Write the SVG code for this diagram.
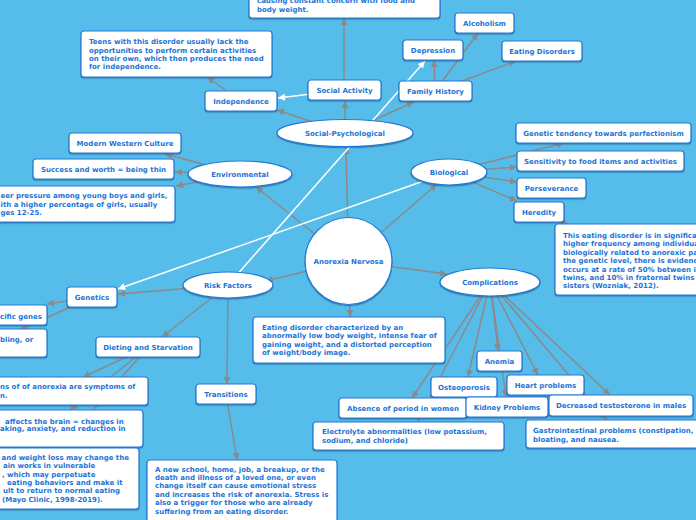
<svg xmlns="http://www.w3.org/2000/svg" width="696" height="520" viewBox="0 0 696 520">
<defs>
<marker id="ag" markerUnits="userSpaceOnUse" viewBox="0 0 10 10" refX="10" refY="5" markerWidth="9" markerHeight="7" orient="auto"><path d="M0,0 L10,5 L0,10 z" fill="#8a8a8a"/></marker>
<marker id="aw" markerUnits="userSpaceOnUse" viewBox="0 0 10 10" refX="10" refY="5" markerWidth="9" markerHeight="7" orient="auto"><path d="M0,0 L10,5 L0,10 z" fill="#ffffff"/></marker>
<filter id="sh" x="-10%" y="-20%" width="120%" height="150%"><feDropShadow dx="0" dy="1.2" stdDeviation="0.7" flood-color="#1b4f8a" flood-opacity="0.55"/></filter>
</defs>
<style>
.bg{fill:#56bdea}
.n rect,.n ellipse,.n circle{fill:#ffffff;stroke:#2479d3;stroke-width:1.2;filter:url(#sh)}
text{font-family:"DejaVu Sans",Verdana,sans-serif;font-weight:bold;font-size:7px;fill:#1c74d6}
.c{text-anchor:middle}
.g{stroke:#8a8a8a;stroke-width:1.5;fill:none;marker-end:url(#ag)}
.w{stroke:#ffffff;stroke-width:1.5;fill:none;marker-end:url(#aw)}
</style>
<rect class="bg" x="0" y="0" width="696" height="520"/>
<g id="connectors">
<line class="g" x1="348.5" y1="261" x2="346" y2="147"/>
<line class="g" x1="348.5" y1="261" x2="256" y2="187"/>
<line class="g" x1="348.5" y1="261" x2="437" y2="184"/>
<line class="g" x1="348.5" y1="261" x2="266" y2="281"/>
<line class="g" x1="348.5" y1="261" x2="447" y2="274"/>
<line class="g" x1="348.5" y1="261" x2="350" y2="317"/>
<line class="g" x1="345" y1="133" x2="277" y2="110"/>
<line class="g" x1="345" y1="133" x2="345" y2="101"/>
<line class="g" x1="345" y1="133" x2="414" y2="102"/>
<line class="g" x1="344" y1="90" x2="344" y2="18"/>
<line class="w" x1="344" y1="90" x2="278" y2="98"/>
<line class="g" x1="241" y1="101" x2="207" y2="77"/>
<line class="g" x1="435" y1="91" x2="434" y2="60"/>
<line class="g" x1="435" y1="91" x2="478" y2="33"/>
<line class="g" x1="435" y1="91" x2="516" y2="61"/>
<line class="w" x1="228" y1="285" x2="425" y2="61"/>
<line class="w" x1="449" y1="172" x2="118" y2="289"/>
<line class="g" x1="240" y1="174" x2="165" y2="154"/>
<line class="g" x1="240" y1="174" x2="175" y2="172"/>
<line class="g" x1="240" y1="174" x2="176" y2="186"/>
<line class="g" x1="449" y1="172" x2="564" y2="143"/>
<line class="g" x1="449" y1="172" x2="517" y2="167"/>
<line class="g" x1="449" y1="172" x2="517" y2="182"/>
<line class="g" x1="449" y1="172" x2="517" y2="201"/>
<line class="g" x1="539" y1="212" x2="568" y2="224"/>
<line class="g" x1="228" y1="285" x2="118" y2="294"/>
<line class="g" x1="228" y1="285" x2="162" y2="337"/>
<line class="g" x1="228" y1="285" x2="227" y2="384"/>
<line class="g" x1="92" y1="297" x2="47" y2="304"/>
<line class="g" x1="92" y1="297" x2="20" y2="330"/>
<line class="g" x1="148" y1="347" x2="83" y2="377"/>
<line class="g" x1="148" y1="347" x2="70" y2="410"/>
<line class="g" x1="148" y1="347" x2="60" y2="448"/>
<line class="g" x1="226" y1="394" x2="237" y2="460"/>
<line class="g" x1="490" y1="282" x2="412" y2="398"/>
<line class="g" x1="490" y1="282" x2="417" y2="422"/>
<line class="g" x1="490" y1="282" x2="468" y2="377"/>
<line class="g" x1="490" y1="282" x2="498" y2="351"/>
<line class="g" x1="490" y1="282" x2="506" y2="397"/>
<line class="g" x1="490" y1="282" x2="538" y2="375"/>
<line class="g" x1="490" y1="282" x2="610" y2="395"/>
<line class="g" x1="490" y1="282" x2="607" y2="420"/>
</g>
<g id="topbox" class="n"><rect x="249" y="-22" width="191" height="40" rx="3"/><text x="257" y="3.2">causing constant concern with food and</text><text x="257" y="11.8">body weight.</text></g>
<g id="teens" class="n"><rect x="81" y="31" width="191" height="46" rx="3"/><text x="89" y="44.2">Teens with this disorder usually lack the</text><text x="89" y="52.5">opportunities to perform certain activities</text><text x="89" y="60.8">on their own, which then produces the need</text><text x="89" y="69.2">for independence.</text></g>
<g id="alcoholism" class="n"><rect x="455" y="13" width="59" height="20" rx="3"/><text class="c" x="484.5" y="25.5">Alcoholism</text></g>
<g id="depression" class="n"><rect x="403" y="40" width="60" height="20" rx="3"/><text class="c" x="433" y="52.5">Depression</text></g>
<g id="eating-disorders" class="n"><rect x="502" y="41" width="80" height="20" rx="3"/><text class="c" x="542" y="53.5">Eating Disorders</text></g>
<g id="social-activity" class="n"><rect x="308" y="80" width="73" height="20" rx="3"/><text class="c" x="344.5" y="92.5">Social Activity</text></g>
<g id="family-history" class="n"><rect x="399" y="81" width="73" height="20" rx="3"/><text class="c" x="435.5" y="93.5">Family History</text></g>
<g id="independence" class="n"><rect x="205" y="91" width="72" height="20" rx="3"/><text class="c" x="241" y="103.5">Independence</text></g>
<g id="social-psychological" class="n"><ellipse cx="345" cy="133" rx="68" ry="13.5"/><text class="c" x="345" y="135.5">Social-Psychological</text></g>
<g id="modern-western" class="n"><rect x="69" y="133" width="112" height="20" rx="3"/><text class="c" x="125" y="145.5">Modern Western Culture</text></g>
<g id="success" class="n"><rect x="33" y="159" width="141" height="20" rx="3"/><text class="c" x="103.5" y="171.5">Success and worth = being thin</text></g>
<g id="peer" class="n"><rect x="-10" y="186" width="185" height="36" rx="3"/><text x="0.5" y="198.2">eer pressure among young boys and girls,</text><text x="0.5" y="206.8">ith a higher percentage of girls, usually</text><text x="0.5" y="214.8">ges 12-25.</text></g>
<g id="environmental" class="n"><ellipse cx="240" cy="174" rx="52" ry="13"/><text class="c" x="240" y="176.5">Environmental</text></g>
<g id="biological" class="n"><ellipse cx="449" cy="172" rx="38" ry="13"/><text class="c" x="449" y="174.5">Biological</text></g>
<g id="genetic-tendency" class="n"><rect x="516" y="123" width="175" height="20" rx="3"/><text class="c" x="603.5" y="135.5">Genetic tendency towards perfectionism</text></g>
<g id="sensitivity" class="n"><rect x="517" y="151" width="167" height="20" rx="3"/><text class="c" x="600.5" y="163.5">Sensitivity to food items and activities</text></g>
<g id="perseverance" class="n"><rect x="517" y="178" width="69" height="20" rx="3"/><text class="c" x="551.5" y="190.5">Perseverance</text></g>
<g id="heredity" class="n"><rect x="514" y="202" width="50" height="20" rx="3"/><text class="c" x="539" y="214.5">Heredity</text></g>
<g id="heredity-note" class="n"><rect x="555" y="224" width="160" height="71" rx="3"/><text x="563" y="237.5">This eating disorder is in significa</text><text x="563" y="245.9">higher frequency among individua</text><text x="563" y="254.8">biologically related to anorexic pa</text><text x="563" y="263.2">the genetic level, there is evidenc</text><text x="563" y="271.5">occurs at a rate of 50% between i</text><text x="563" y="279.9">twins, and 10% in fraternal twins</text><text x="563" y="288.2">sisters (Wozniak, 2012).</text></g>
<g id="anorexia-nervosa" class="n"><circle cx="348.5" cy="261" r="43.5"/><text class="c" x="348.5" y="263.5">Anorexia Nervosa</text></g>
<g id="risk-factors" class="n"><ellipse cx="228" cy="285" rx="45" ry="13"/><text class="c" x="228" y="287.5">Risk Factors</text></g>
<g id="complications" class="n"><ellipse cx="490" cy="282" rx="50" ry="14"/><text class="c" x="490" y="284.5">Complications</text></g>
<g id="genetics" class="n"><rect x="67" y="287" width="50" height="20" rx="3"/><text class="c" x="92" y="299.5">Genetics</text></g>
<g id="specific-genes" class="n"><rect x="-10" y="305" width="57" height="20" rx="3"/><text x="0" y="318.5">cific genes</text></g>
<g id="sibling" class="n"><rect x="-10" y="329" width="57" height="28" rx="3"/><text x="0" y="341.8">bling, or</text></g>
<g id="definition" class="n"><rect x="253" y="317" width="192" height="46" rx="3"/><text x="262" y="329.8">Eating disorder characterized by an</text><text x="262" y="338.2">abnormally low body weight, intense fear of</text><text x="262" y="346.6">gaining weight, and a distorted perception</text><text x="262" y="355">of weight/body image.</text></g>
<g id="dieting" class="n"><rect x="96" y="337" width="104" height="20" rx="3"/><text class="c" x="148" y="349.5">Dieting and Starvation</text></g>
<g id="symptoms" class="n"><rect x="-10" y="377" width="158" height="28" rx="3"/><text x="0" y="388.5">ns of of anorexia are symptoms of</text><text x="0" y="397.5">n.</text></g>
<g id="brain" class="n"><rect x="-10" y="410" width="153" height="37" rx="3"/><text x="5" y="423.5">affects the brain = changes in</text><text x="0" y="431">aking, anxiety, and reduction in</text></g>
<g id="weight-loss" class="n"><rect x="-10" y="448" width="149" height="61" rx="3"/><text x="1.5" y="459.8">and weight loss may change the</text><text x="3" y="468.2">ain works in vulnerable</text><text x="2" y="476.6">, which may perpetuate</text><text x="7" y="485">eating behaviors and make it</text><text x="3" y="493.4">ult to return to normal eating</text><text x="2" y="501.8">(Mayo Clinic, 1998-2019).</text></g>
<g id="transitions" class="n"><rect x="196" y="384" width="60" height="20" rx="3"/><text class="c" x="226" y="396.5">Transitions</text></g>
<g id="transitions-note" class="n"><rect x="147" y="460" width="190" height="70" rx="3"/><text x="155" y="471.5">A new school, home, job, a breakup, or the</text><text x="155" y="479.9">death and illness of a loved one, or even</text><text x="155" y="488.3">change itself can cause emotional stress</text><text x="155" y="496.7">and increases the risk of anorexia. Stress is</text><text x="155" y="505.1">also a trigger for those who are already</text><text x="155" y="513.5">suffering from an eating disorder.</text></g>
<g id="anemia" class="n"><rect x="477" y="351" width="45" height="20" rx="3"/><text class="c" x="499.5" y="363.5">Anemia</text></g>
<g id="osteoporosis" class="n"><rect x="431" y="377" width="66" height="20" rx="3"/><text class="c" x="464" y="389.5">Osteoporosis</text></g>
<g id="heart" class="n"><rect x="507" y="375" width="77" height="20" rx="3"/><text class="c" x="545.5" y="387.5">Heart problems</text></g>
<g id="absence" class="n"><rect x="339" y="398" width="128" height="20" rx="3"/><text class="c" x="403" y="410.5">Absence of period in women</text></g>
<g id="kidney" class="n"><rect x="466" y="397" width="82" height="20" rx="3"/><text class="c" x="507" y="409.5">Kidney Problems</text></g>
<g id="testosterone" class="n"><rect x="549" y="395" width="144" height="21" rx="3"/><text class="c" x="621" y="408">Decreased testosterone in males</text></g>
<g id="electrolyte" class="n"><rect x="313" y="422" width="191" height="28" rx="3"/><text x="322" y="434.2">Electrolyte abnormalities (low potassium,</text><text x="322" y="442.8">sodium, and chloride)</text></g>
<g id="gastro" class="n"><rect x="526" y="420" width="175" height="28" rx="3"/><text x="533" y="433.2">Gastrointestinal problems (constipation,</text><text x="533" y="441.6">bloating, and nausea.</text></g>
</svg>
